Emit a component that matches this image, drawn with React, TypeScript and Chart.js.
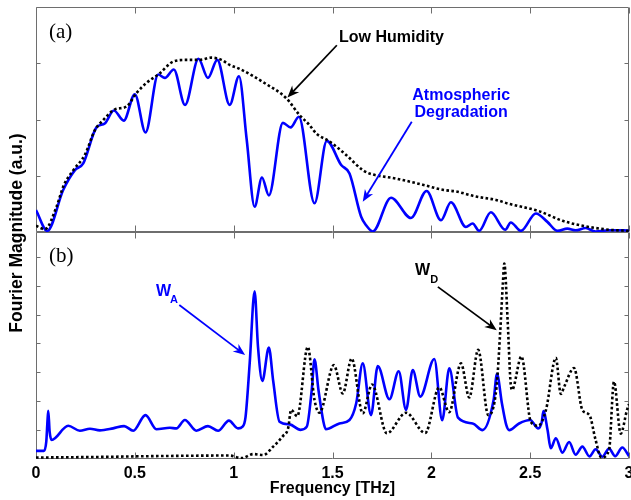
import React, { useEffect, useRef } from 'react';
import { Chart, registerables } from 'chart.js';

Chart.register(...registerables);

// ---------- data ----------
const xTickValues = [0, 0.5, 1, 1.5, 2, 2.5, 3];
const xTickLabels = ['0', '0.5', '1', '1.5', '2', '2.5', '3'];
const yTicksA = [1, 2, 3];
const yTicksB = [1, 2, 3, 4, 5, 6, 7];

// panel (a): Atmospheric Degradation (blue solid) [THz, a.u.]
const degradationA: [number, number][] = [
  [0, 0.39], [0.057, 0.02], [0.138, 0.75], [0.197, 1.1], [0.239, 1.22], [0.306, 1.86],
  [0.348, 1.93], [0.394, 2.16], [0.444, 1.98], [0.5, 2.45], [0.554, 1.77], [0.618, 2.8],
  [0.652, 2.74], [0.697, 2.89], [0.754, 2.26], [0.822, 3.08], [0.87, 2.74], [0.917, 3.06],
  [0.98, 2.26], [1.027, 2.77], [1.066, 1.64], [1.106, 0.45], [1.143, 0.97], [1.178, 0.65],
  [1.249, 1.94], [1.288, 1.86], [1.33, 2.05], [1.409, 0.51], [1.471, 1.62], [1.544, 1.19],
  [1.586, 1.04], [1.645, 0.27], [1.67, 0.12], [1.704, 0.01], [1.796, 0.61], [1.897, 0.25],
  [1.976, 0.73], [2.049, 0.21], [2.099, 0.53], [2.175, 0.09], [2.209, 0.15], [2.242, 0.02],
  [2.301, 0.35], [2.374, 0.04], [2.402, 0.17], [2.453, 0.02], [2.529, 0.33], [2.587, 0.18],
  [2.638, 0.02], [2.688, 0.06], [2.73, 0.03], [2.781, 0.07], [2.83, 0.01], [2.9, 0.03],
  [2.975, 0.03], [3.0, 0.02],
];

// panel (a): Low Humidity (black dotted)
const humidityA: [number, number][] = [
  [0, 0.11], [0.045, 0.05], [0.104, 0.45], [0.138, 0.81], [0.189, 1.1], [0.247, 1.37],
  [0.298, 1.81], [0.34, 1.99], [0.399, 2.18], [0.458, 2.23], [0.508, 2.47], [0.559, 2.65],
  [0.626, 2.82], [0.694, 3.03], [0.761, 3.06], [0.828, 3.06], [0.887, 3.1], [0.938, 3.06],
  [0.98, 2.97], [1.03, 2.9], [1.16, 2.64], [1.266, 2.38], [1.333, 2.08], [1.384, 1.9],
  [1.418, 1.75], [1.485, 1.61], [1.569, 1.37], [1.653, 1.1], [1.687, 1.04], [1.822, 0.95],
  [1.956, 0.84], [2.057, 0.75], [2.125, 0.72], [2.226, 0.63], [2.327, 0.57], [2.394, 0.5],
  [2.545, 0.37], [2.663, 0.2], [2.781, 0.1], [2.9, 0.04], [3.0, 0.02],
];

// panel (b): W_A (blue solid)
const degradationB: [number, number][] = [
  [0, 0.28], [0.04, 0.28], [0.052, 0.6], [0.058, 1.3], [0.062, 1.67], [0.069, 0.95],
  [0.079, 0.66], [0.163, 1.15], [0.222, 0.98], [0.273, 1.05], [0.323, 0.99], [0.39, 1.06],
  [0.446, 1.14], [0.492, 0.98], [0.554, 1.52], [0.609, 1.03], [0.677, 1.08], [0.71, 1.06],
  [0.753, 1.35], [0.811, 0.98], [0.87, 1.14], [0.921, 0.98], [0.976, 1.33], [1.022, 1.06],
  [1.045, 1.12], [1.06, 1.45], [1.081, 3.31], [1.106, 5.81], [1.123, 3.89], [1.145, 2.7],
  [1.178, 3.86], [1.2, 2.7], [1.232, 1.29], [1.283, 1.2], [1.338, 1.01], [1.37, 1.12],
  [1.395, 2.39], [1.409, 3.45], [1.429, 2.39], [1.454, 1.29], [1.466, 1.03], [1.535, 1.23],
  [1.586, 1.35], [1.62, 1.93], [1.653, 3.31], [1.695, 1.52], [1.729, 3.22], [1.788, 2.07],
  [1.835, 3.04], [1.872, 1.7], [1.906, 3.08], [1.944, 2.16], [2.015, 3.46], [2.055, 1.34],
  [2.091, 3.14], [2.135, 1.43], [2.209, 1.23], [2.259, 1.0], [2.315, 2.04], [2.332, 2.94],
  [2.357, 1.93], [2.379, 1.18], [2.394, 1.0], [2.444, 1.23], [2.5, 1.35], [2.541, 1.06],
  [2.559, 1.29], [2.567, 1.66], [2.588, 1.0], [2.604, 0.37], [2.63, 0.72], [2.663, 0.22],
  [2.697, 0.59], [2.73, 0.15], [2.764, 0.43], [2.8, 0.09], [2.831, 0.34], [2.865, 0.08],
  [2.899, 0.36], [2.93, 0.1], [2.966, 0.4], [3.0, 0.1],
];

// panel (b): W_D (black dotted)
const humidityB: [number, number][] = [
  [0, 0.05], [0.3, 0.07], [0.6, 0.1], [0.98, 0.12], [1.04, 0.03], [1.1, 0.17], [1.15, 0.14],
  [1.2, 0.43], [1.25, 0.8], [1.275, 1.05], [1.291, 1.7], [1.322, 1.48], [1.375, 3.88],
  [1.409, 2.04], [1.434, 1.6], [1.507, 3.25], [1.552, 2.27], [1.597, 3.48], [1.653, 1.58],
  [1.7, 2.58], [1.775, 0.89], [1.872, 1.6], [1.969, 0.9], [2.04, 2.48], [2.09, 1.62],
  [2.15, 3.31], [2.192, 2.13], [2.237, 3.78], [2.288, 1.52], [2.33, 2.5], [2.348, 4.36],
  [2.362, 6.08], [2.369, 6.77], [2.386, 4.8], [2.4, 2.73], [2.408, 2.39], [2.456, 3.55],
  [2.503, 1.29], [2.54, 1.15], [2.58, 1.7], [2.63, 3.5], [2.655, 2.25], [2.672, 2.5],
  [2.722, 3.15], [2.764, 1.7], [2.8, 1.52], [2.831, 0.66], [2.86, 0.05], [2.899, 0.31],
  [2.924, 2.68], [2.958, 0.88], [2.99, 1.7], [3.0, 1.9],
];

// ---------- styling ----------
const BLUE = '#0000ff';
const FRAME = '#6e6e6e';
const SANS = '"Liberation Sans", Arial, sans-serif';
const SERIF = '"Liberation Serif", "Times New Roman", serif';

type Ann =
  | { kind: 'text'; axis: 'yA' | 'yB'; x: number; y: number; text: string; color: string; font: string; align?: CanvasTextAlign }
  | { kind: 'arrow'; axis: 'yA' | 'yB'; x1: number; y1: number; x2: number; y2: number; color: string };

const annotations: Ann[] = [
  { kind: 'text', axis: 'yA', x: 0.066, y: 3.45, text: '(a)', color: '#000', font: `21px ${SERIF}` },
  { kind: 'text', axis: 'yB', x: 0.066, y: 6.82, text: '(b)', color: '#000', font: `21px ${SERIF}` },
  { kind: 'text', axis: 'yA', x: 1.533, y: 3.38, text: 'Low Humidity', color: '#000', font: `bold 16px ${SANS}` },
  { kind: 'arrow', axis: 'yA', x1: 1.522, y1: 3.32, x2: 1.272, y2: 2.39, color: '#000' },
  { kind: 'text', axis: 'yA', x: 2.151, y: 2.347, text: 'Atmospheric', color: BLUE, font: `bold 16px ${SANS}`, align: 'center' },
  { kind: 'text', axis: 'yA', x: 2.151, y: 2.05, text: 'Degradation', color: BLUE, font: `bold 16px ${SANS}`, align: 'center' },
  { kind: 'arrow', axis: 'yA', x1: 1.901, y1: 1.96, x2: 1.653, y2: 0.539, color: BLUE },
  { kind: 'text', axis: 'yB', x: 0.607, y: 5.64, text: 'W', color: BLUE, font: `bold 16px ${SANS}` },
  { kind: 'text', axis: 'yB', x: 0.678, y: 5.4, text: 'A', color: BLUE, font: `bold 11px ${SANS}` },
  { kind: 'arrow', axis: 'yB', x1: 0.725, y1: 5.33, x2: 1.058, y2: 3.6, color: BLUE },
  { kind: 'text', axis: 'yB', x: 1.918, y: 6.37, text: 'W', color: '#000', font: `bold 16px ${SANS}` },
  { kind: 'text', axis: 'yB', x: 1.994, y: 6.09, text: 'D', color: '#000', font: `bold 11px ${SANS}` },
  { kind: 'arrow', axis: 'yB', x1: 2.033, y1: 5.96, x2: 2.331, y2: 4.46, color: '#000' },
];

const framePlugin = {
  id: 'framePlugin',
  beforeDatasetsDraw(chart: any) {
    const { ctx } = chart;
    const x = chart.scales.x;
    const panels = [
      { s: chart.scales.yA, ticks: yTicksA },
      { s: chart.scales.yB, ticks: yTicksB },
    ];
    ctx.save();
    ctx.strokeStyle = FRAME;
    ctx.lineWidth = 1;
    const L = Math.round(x.left) + 0.5;
    const R = Math.round(x.right) - 0.5;
    for (const p of panels) {
      const T = Math.round(p.s.top) + 0.5;
      const B = Math.round(p.s.bottom) - 0.5;
      ctx.beginPath();
      ctx.rect(L, T, R - L, B - T);
      for (const v of xTickValues) {
        const px = Math.round(x.getPixelForValue(v)) + 0.5;
        ctx.moveTo(px, T); ctx.lineTo(px, T + 6);
        ctx.moveTo(px, B); ctx.lineTo(px, B - 6);
      }
      for (const v of p.ticks) {
        const py = Math.round(p.s.getPixelForValue(v)) + 0.5;
        ctx.moveTo(L, py); ctx.lineTo(L + 4, py);
        ctx.moveTo(R, py); ctx.lineTo(R - 4, py);
      }
      ctx.stroke();
    }
    ctx.restore();
  },
  afterDraw(chart: any) {
    const { ctx, chartArea } = chart;
    const x = chart.scales.x;
    ctx.save();
    // y-axis title spanning both panels
    ctx.translate(17, (chartArea.top + chartArea.bottom) / 2);
    ctx.rotate(-Math.PI / 2);
    ctx.fillStyle = '#000';
    ctx.font = `bold 17.5px ${SANS}`;
    ctx.textAlign = 'center';
    ctx.textBaseline = 'middle';
    ctx.fillText('Fourier Magnitude (a.u.)', 0, 0);
    ctx.restore();

    for (const a of annotations) {
      const ys = chart.scales[a.axis];
      ctx.save();
      if (a.kind === 'text') {
        ctx.font = a.font;
        ctx.fillStyle = a.color;
        ctx.textAlign = a.align || 'left';
        ctx.textBaseline = 'alphabetic';
        ctx.fillText(a.text, x.getPixelForValue(a.x), ys.getPixelForValue(a.y));
      } else {
        const x1 = x.getPixelForValue(a.x1), y1 = ys.getPixelForValue(a.y1);
        const x2 = x.getPixelForValue(a.x2), y2 = ys.getPixelForValue(a.y2);
        const ang = Math.atan2(y2 - y1, x2 - x1);
        const len = 12, half = 4.8;
        const bx = x2 - len * Math.cos(ang), by = y2 - len * Math.sin(ang);
        const nx = -Math.sin(ang), ny = Math.cos(ang);
        ctx.strokeStyle = a.color;
        ctx.fillStyle = a.color;
        ctx.lineWidth = 1.8;
        ctx.beginPath();
        ctx.moveTo(x1, y1);
        ctx.lineTo(x2 - 6 * Math.cos(ang), y2 - 6 * Math.sin(ang));
        ctx.stroke();
        const mx = x2 - len * 0.7 * Math.cos(ang), my = y2 - len * 0.7 * Math.sin(ang);
        ctx.beginPath();
        ctx.moveTo(x2, y2);
        ctx.lineTo(bx + nx * half, by + ny * half);
        ctx.lineTo(mx, my);
        ctx.lineTo(bx - nx * half, by - ny * half);
        ctx.closePath();
        ctx.fill();
      }
      ctx.restore();
    }
  },
};

const toPts = (arr: [number, number][]) => arr.map(([x, y]) => ({ x, y }));

export default function App() {
  const ref = useRef<HTMLCanvasElement | null>(null);
  useEffect(() => {
    if (!ref.current) return;
    const lineCommon = {
      pointRadius: 0,
      cubicInterpolationMode: 'monotone' as const,
      fill: false,
    };
    const chart = new Chart(ref.current, {
      type: 'line',
      data: {
        datasets: [
          { ...lineCommon, label: 'Low Humidity (a)', data: toPts(humidityA), yAxisID: 'yA', borderColor: '#000', borderWidth: 2.6, borderDash: [2.6, 2.4], order: 0 },
          { ...lineCommon, label: 'Atmospheric Degradation (a)', data: toPts(degradationA), yAxisID: 'yA', borderColor: BLUE, borderWidth: 2.6, order: 1 },
          { ...lineCommon, label: 'W_D (b)', data: toPts(humidityB), yAxisID: 'yB', borderColor: '#000', borderWidth: 2.6, borderDash: [2.6, 2.4], order: 0 },
          { ...lineCommon, label: 'W_A (b)', data: toPts(degradationB), yAxisID: 'yB', borderColor: BLUE, borderWidth: 2.6, order: 1 },
        ],
      },
      options: {
        responsive: false,
        animation: false,
        devicePixelRatio: 1,
        layout: { padding: { top: 7, right: 2, bottom: 0, left: 0 } },
        plugins: { legend: { display: false }, tooltip: { enabled: false } },
        events: [],
        scales: {
          x: {
            type: 'linear',
            min: 0,
            max: 3,
            grid: { display: false, drawTicks: false },
            border: { display: false },
            afterBuildTicks: (s: any) => { s.ticks = xTickValues.map((v) => ({ value: v })); },
            afterFit: (s: any) => { s.height = 41; s.paddingLeft = 0; s.paddingRight = 0; },
            ticks: {
              padding: 5,
              color: '#000',
              maxRotation: 0,
              autoSkip: false,
              font: { family: SANS, weight: 'bold', size: 16 },
              callback: (v: any) => xTickLabels[xTickValues.indexOf(Number(v))] ?? '',
            },
            title: {
              display: true,
              text: 'Frequency [THz]',
              color: '#000',
              font: { family: SANS, weight: 'bold', size: 16 },
              padding: { top: 0, bottom: 2 },
            },
          },
          yB: {
            type: 'linear',
            position: 'left',
            stack: 'panels',
            stackWeight: 227,
            min: 0,
            max: 7.86,
            grid: { display: false, drawTicks: false },
            border: { display: false },
            ticks: { display: false },
            afterFit: (s: any) => { s.width = 36; },
          },
          yA: {
            type: 'linear',
            position: 'left',
            stack: 'panels',
            stackWeight: 225,
            min: 0,
            max: 4,
            grid: { display: false, drawTicks: false },
            border: { display: false },
            ticks: { display: false },
            afterFit: (s: any) => { s.width = 36; },
          },
        },
      } as any,
      plugins: [framePlugin],
    });
    return () => chart.destroy();
  }, []);

  return (
    <div style={{ position: 'absolute', left: 0, top: 0, width: 631, height: 500, background: '#fff' }}>
      <canvas ref={ref} width={631} height={500} style={{ display: 'block' }} />
    </div>
  );
}
